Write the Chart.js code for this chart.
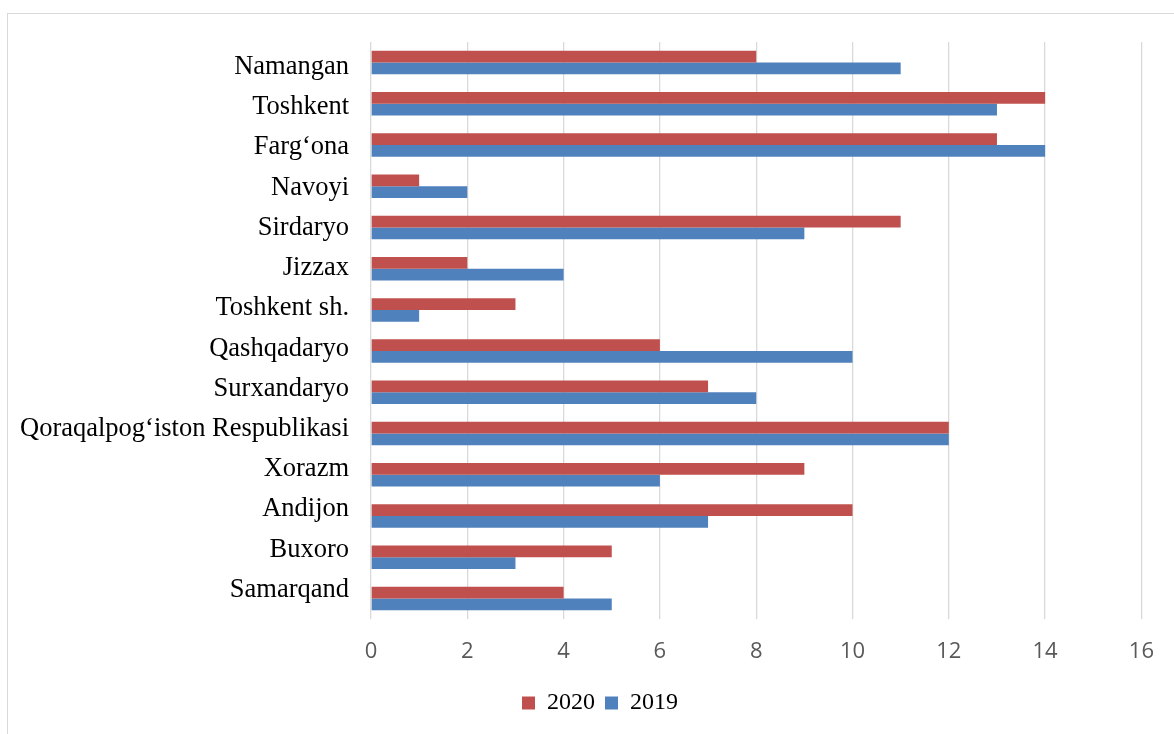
<!DOCTYPE html>
<html>
<head>
<meta charset="utf-8">
<script src="https://cdn.jsdelivr.net/npm/chart.js@4.4.1/dist/chart.umd.min.js"></script>
<style>
    html, body { margin: 0; padding: 0; background: #fff; overflow: hidden; }
    .wrap { position: relative; width: 1174px; height: 734px; }
    .frame {
        position: absolute; left: 7px; top: 13px; right: 0; bottom: -5px;
        border-left: 1.5px solid #d9d9d9; border-top: 1.5px solid #d9d9d9;
        pointer-events: none;
    }
</style>
</head>
<body>
<div class="wrap">
    <canvas id="regionChart"></canvas>
    <div class="frame"></div>
</div>
<script>
// data
const regions = ['Namangan', 'Toshkent', 'Farg‘ona', 'Navoyi', 'Sirdaryo', 'Jizzax', 'Toshkent sh.',
    'Qashqadaryo', 'Surxandaryo', 'Qoraqalpog‘iston Respublikasi', 'Xorazm', 'Andijon', 'Buxoro', 'Samarqand'];
const values2020 = [8, 14, 13, 1, 11, 2, 3, 6, 7, 12, 9, 10, 5, 4];
const values2019 = [11, 13, 14, 2, 9, 4, 1, 10, 8, 12, 6, 7, 3, 5];
const xTicks = [0, 2, 4, 6, 8, 10, 12, 14, 16];

const serif = "'Liberation Serif', 'Times New Roman', serif";
const sans = "'Open Sans', 'Noto Sans', sans-serif";

// nudge the legend so it sits centred under the page like the original
const legendShift = {
    id: 'legendShift',
    afterLayout: (chart) => {
        if (chart.legend) {
            chart.legend.left += 29;
            chart.legend.right += 29;
        }
    }
};

document.addEventListener('DOMContentLoaded', () => {
    const ctx = document.getElementById('regionChart');

    new Chart(ctx, {
        type: 'bar',
        data: {
            labels: regions,
            datasets: [
                { label: '2020', data: values2020, backgroundColor: '#c0504d' },
                { label: '2019', data: values2019, backgroundColor: '#4f81bd' }
            ]
        },
        options: {
            indexAxis: 'y',
            responsive: true,
            maintainAspectRatio: false,
            animation: false,
            categoryPercentage: 0.57,
            barPercentage: 1.0,
            layout: { padding: { top: 42, right: 32, bottom: 9, left: 0 } },
            scales: {
                x: {
                    min: 0,
                    max: 16,
                    afterBuildTicks: (scale) => { scale.ticks = xTicks.map(v => ({ value: v })); },
                    afterFit: (scale) => { scale.height = 62; },
                    grid: { color: '#d9d9d9', lineWidth: 1.3, drawTicks: false },
                    border: { display: false },
                    ticks: { color: '#595959', font: { family: sans, size: 22 }, padding: 20 }
                },
                // category axis that places the bars
                y: {
                    display: false
                },
                // label axis: the original spaces its labels a touch tighter than the bars
                yLabels: {
                    type: 'linear',
                    position: 'left',
                    reverse: true,
                    offset: false,
                    bounds: 'data',
                    afterBuildTicks: (scale) => {
                        scale.ticks = regions.map((r, i) => ({ value: i }));
                        scale.min = -0.6226;
                        scale.max = regions.length - 1 + 0.722;
                    },
                    afterFit: (scale) => { scale.width = 371; },
                    grid: { display: false, drawTicks: false },
                    border: { display: false },
                    ticks: {
                        color: '#000',
                        font: { family: serif, size: 26.5 },
                        padding: 22,
                        autoSkip: false,
                        callback: (value) => regions[value]
                    }
                }
            },
            plugins: {
                legend: {
                    position: 'bottom',
                    labels: {
                        color: '#000',
                        font: { family: serif, size: 24 },
                        boxWidth: 13,
                        boxHeight: 13,
                        padding: 10
                    }
                },
                tooltip: { enabled: false }
            }
        },
        plugins: [legendShift]
    });
});
</script>
</body>
</html>
